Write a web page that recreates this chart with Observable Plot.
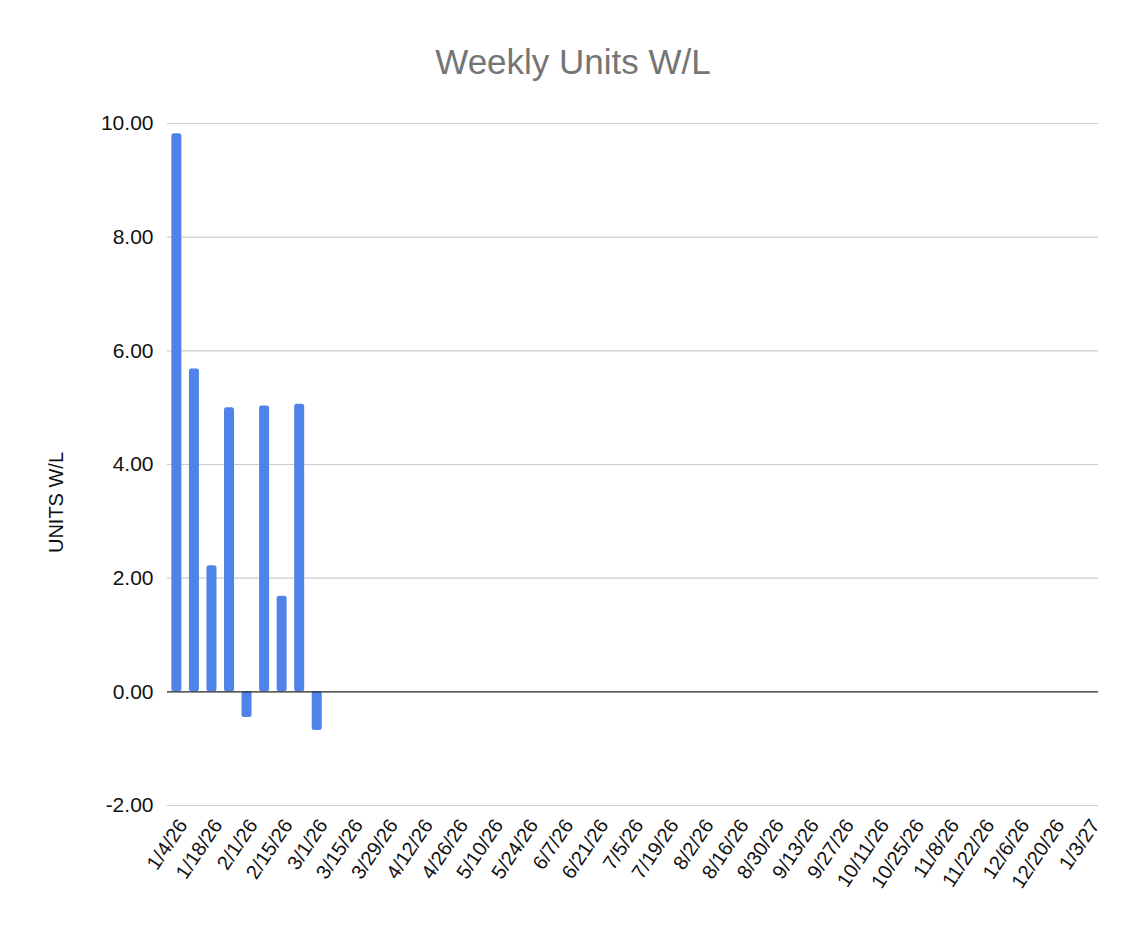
<!DOCTYPE html>
<html><head><meta charset="utf-8">
<script src="https://cdn.jsdelivr.net/npm/d3@7"></script>
<script src="https://cdn.jsdelivr.net/npm/@observablehq/plot@0.6"></script>
<style>
body{margin:0;background:#fff;font-family:"Liberation Sans",Arial,sans-serif;}
#title{height:100px;line-height:124px;text-align:center;font-size:35px;color:#757575;}
</style></head>
<body>
<div id="title">Weekly Units W/L</div>
<div id="chart"></div>
<script>
const weeks = ["1/4/26","1/11/26","1/18/26","1/25/26","2/1/26","2/8/26","2/15/26","2/22/26","3/1/26","3/8/26","3/15/26","3/22/26","3/29/26","4/5/26","4/12/26","4/19/26","4/26/26","5/3/26","5/10/26","5/17/26","5/24/26","5/31/26","6/7/26","6/14/26","6/21/26","6/28/26","7/5/26","7/12/26","7/19/26","7/26/26","8/2/26","8/9/26","8/16/26","8/23/26","8/30/26","9/6/26","9/13/26","9/20/26","9/27/26","10/4/26","10/11/26","10/18/26","10/25/26","11/1/26","11/8/26","11/15/26","11/22/26","11/29/26","12/6/26","12/13/26","12/20/26","12/27/26","1/3/27"];
const unitsWL = [9.82, 5.68, 2.22, 5.00, -0.45, 5.03, 1.68, 5.06, -0.68];
const yTicks = [-2, 0, 2, 4, 6, 8, 10];
const labeledWeeks = weeks.filter((d, i) => i % 2 === 0);
const yTitle = "UNITS W/L";

const data = weeks.map((w, i) => ({week: w, value: i < unitsWL.length ? unitsWL[i] : null}));

const chart = Plot.plot({
  width: 1146,
  height: 838,
  marginTop: 23,
  marginLeft: 167,
  marginRight: 48,
  marginBottom: 133,
  style: {fontFamily: "'Liberation Sans', Arial, sans-serif", fontSize: "20px", color: "#111", background: "#fff"},
  x: {type: "band", domain: weeks, paddingInner: 0.43, paddingOuter: 0.25, round: false, label: null},
  y: {domain: [-2, 10], label: null},
  marks: [
    Plot.ruleY(yTicks.filter(d => d !== 0), {stroke: "#cccccc", strokeWidth: 1.2, strokeOpacity: 1}),
    Plot.barY(data.filter(d => d.value != null), {x: "week", y: "value", fill: "#5083ea", rx: 2.5}),
    Plot.ruleY([0], {stroke: "#222", strokeWidth: 1.2}),
    Plot.axisY({ticks: yTicks, tickFormat: d => d.toFixed(2), tickSize: 0, tickPadding: 14, fontSize: 21, label: null}),
    Plot.text([yTitle], {frameAnchor: "left", text: d => d, textAnchor: "middle", rotate: -90, dx: -111, dy: 38, fontSize: 20, fill: "#111"}),
    Plot.axisX({ticks: labeledWeeks, tickSize: 0, tickRotate: -56, tickPadding: 10, dx: 6, dy: 6, fontSize: 20, label: null})
  ]
});
document.getElementById("chart").appendChild(chart);
</script>
</body></html>
